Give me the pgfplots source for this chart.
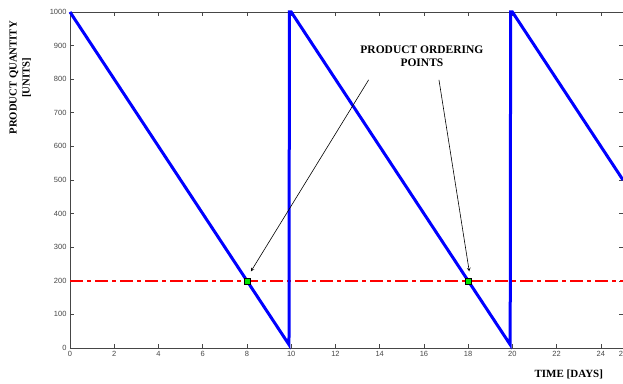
\documentclass[border=0pt]{standalone}
\usepackage{fontspec}
\setmainfont{Liberation Serif}
\newfontfamily\ticksf{Liberation Sans}
\usepackage{pgfplots}
\pgfplotsset{compat=1.18}
\definecolor{axgray}{RGB}{70,70,70}
\definecolor{mblue}{RGB}{0,0,255}
\definecolor{mred}{RGB}{255,0,0}
\definecolor{mgreen}{RGB}{0,230,0}
\begin{document}
\begin{tikzpicture}
\useasboundingbox (0,0) rectangle (623pt,383pt);
\clip (0,0) rectangle (623pt,383pt);
\begin{axis}[
  at={(70pt,35pt)}, anchor=south west,
  scale only axis, width=553pt, height=336pt,
  xmin=0, xmax=25, ymin=0, ymax=1000,
  xtick={0,2,...,24,25}, ytick={0,100,...,1000},
  axis line style={axgray, line width=0.6pt},
  tick style={axgray, line width=0.6pt},
  major tick length=4pt,
  tick align=inside,
  ticklabel style={font=\ticksf\fontsize{7.5}{8}\selectfont, text=axgray},
  /pgf/number format/assume math mode=true,
  /pgf/number format/1000 sep={},
  xlabel={TIME [DAYS]},
  xlabel style={at={(rel axis cs:0.902,-0.080)}, anchor=center,
    font=\bfseries\fontsize{11}{12}\selectfont},
  ylabel={PRODUCT QUANTITY\\{[UNITS]}},
  ylabel style={at={(rel axis cs:-0.090,0.804)}, anchor=center, align=center,
    font=\bfseries\fontsize{10.7}{13}\selectfont},
  clip=false,
]
\addplot[mred, line width=2.6pt, dash pattern=on 13pt off 4pt on 4pt off 4pt]
  coordinates {(0,200)(25,200)};
\addplot[mblue, line width=3pt] coordinates {
  (0,1000)(9.9,10)(9.92,1000)(10,1000)(19.9,10)(19.92,1000)(20,1000)(25,500)
};
\addplot[only marks, mark=square*, mark size=3pt,
  mark options={fill=mgreen, draw=black, line width=0.6pt}]
  coordinates {(8,200)(18,200)};
\node[align=center, font=\bfseries\fontsize{11.5}{13}\selectfont]
  at (axis cs:15.91,869) {PRODUCT ORDERING\\POINTS};
\draw[->, >=stealth, black, line width=0.6pt] (axis cs:13.5,798) -- (axis cs:8.18,228);
\draw[->, >=stealth, black, line width=0.6pt] (axis cs:16.68,798) -- (axis cs:18.05,228);
\end{axis}
\end{tikzpicture}
\end{document}
